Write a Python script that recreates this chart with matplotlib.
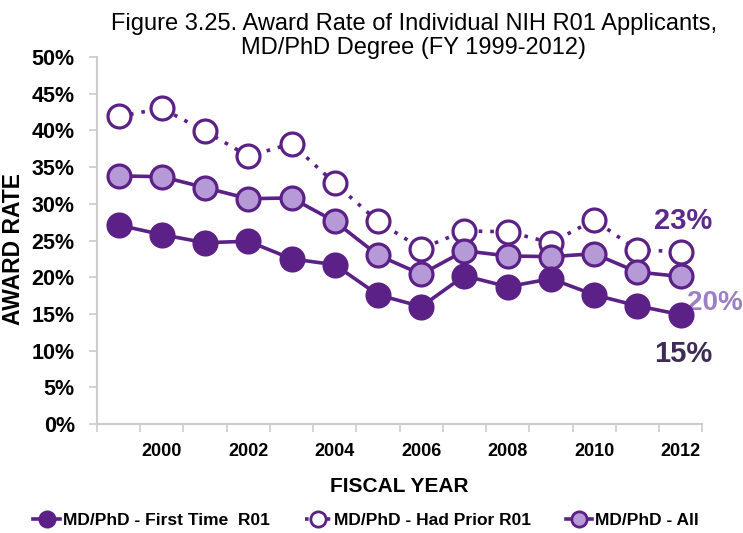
import matplotlib.pyplot as plt
from matplotlib.lines import Line2D

years = list(range(1999, 2013))
first_time = [27.1, 25.8, 24.7, 24.9, 22.5, 21.7, 17.6, 16.0, 20.2, 18.7, 19.8, 17.6, 16.1, 14.9]
had_prior = [41.9, 43.0, 39.9, 36.5, 38.2, 32.8, 27.6, 23.9, 26.3, 26.2, 24.7, 27.8, 23.7, 23.5]
all_md = [33.8, 33.7, 32.2, 30.7, 30.8, 27.6, 23.0, 20.4, 23.6, 22.9, 22.8, 23.2, 20.7, 20.1]
end_labels = ["15%", "23%", "20%"]

dark = "#5b2186"
light = "#b69ad8"

plt.rcParams['font.family'] = ['Liberation Sans', 'DejaVu Sans']

fig = plt.figure(figsize=(7.43, 5.33), dpi=100)
ax = fig.add_axes([0.1306, 0.2045, 0.8145, 0.6885])

ms = 16.5
mew = 2.3
ax.plot(years, had_prior, linestyle=(0, (1, 2.2)), color=dark, lw=2.6, marker="o",
        ms=ms, mfc="white", mec=dark, mew=mew, zorder=3)
ax.plot(years, all_md, linestyle="-", color=dark, lw=2.6, marker="o",
        ms=ms, mfc=light, mec=dark, mew=mew, zorder=4)
ax.plot(years, first_time, linestyle="-", color=dark, lw=2.6, marker="o",
        ms=ms, mfc=dark, mec=dark, mew=mew, zorder=5)

# end-of-series labels
ax.annotate(end_labels[1], (years[-1], had_prior[-1]), xytext=(2, 22), textcoords="offset points",
            ha="center", va="center", fontsize=21, fontweight="bold", color="#5a2a8c")
ax.annotate(end_labels[2], (years[-1], all_md[-1]), xytext=(25, -19), textcoords="offset points",
            ha="center", va="center", fontsize=20, fontweight="bold", color="#9c7fc4")
ax.annotate(end_labels[0], (years[-1], first_time[-1]), xytext=(2, -28), textcoords="offset points",
            ha="center", va="center", fontsize=21, fontweight="bold", color="#3e2b57")

ax.set_xlim(1998.5, 2012.5)
ax.set_ylim(0, 50)
ax.set_yticks(range(0, 51, 5))
ax.set_yticklabels([f"{v}%" for v in range(0, 51, 5)])
ax.set_xticks([y + 0.5 for y in range(1998, 2013)])
ax.set_xticklabels([])
ax.set_xticks([y for y in years if y % 2 == 0], minor=True)
ax.set_xticklabels([str(y) for y in years if y % 2 == 0], minor=True)
ax.tick_params(axis="x", which="minor", length=0, pad=14, labelsize=13)
ax.tick_params(axis="x", which="major", length=6, color="#cccccc", width=1.2)
ax.tick_params(axis="y", length=6, color="#cccccc", width=1.2, labelsize=15.5, pad=10)
for lab in ax.get_xticklabels(minor=True) + ax.get_yticklabels():
    lab.set_fontweight("bold")

for s in ["top", "right"]:
    ax.spines[s].set_visible(False)
for s in ["left", "bottom"]:
    ax.spines[s].set_color("#cccccc")
    ax.spines[s].set_linewidth(1.5)

ax.set_xlabel("FISCAL YEAR", fontsize=15, fontweight="bold", labelpad=12)
ax.set_ylabel("AWARD RATE", fontsize=16.5, fontweight="bold")
ax.yaxis.set_label_coords(-0.119, 0.477)

fig.text(0.557, 0.932, "Figure 3.25. Award Rate of Individual NIH R01 Applicants,\nMD/PhD Degree (FY 1999-2012)",
         ha="center", va="center", fontsize=17, linespacing=1.1)

handles = [
    Line2D([], [], color=dark, lw=2.6, marker="o", ms=11, mfc=dark, mec=dark, mew=2),
    Line2D([], [], color=dark, lw=2.6, linestyle=(0, (1, 2)), marker="o", ms=11, mfc="white", mec=dark, mew=2),
    Line2D([], [], color=dark, lw=2.6, marker="o", ms=11, mfc=light, mec=dark, mew=2),
]
labels = ["MD/PhD - First Time  R01", "MD/PhD - Had Prior R01", "MD/PhD - All"]
fig.legend(handles, labels, loc="center", bbox_to_anchor=(0.493, 1 - 520 / 533), ncol=3,
           frameon=False, handlelength=1.5, handletextpad=0.2, columnspacing=2.0,
           prop={"size": 12.5, "weight": "bold"})

fig.savefig("out.png", dpi=100)
